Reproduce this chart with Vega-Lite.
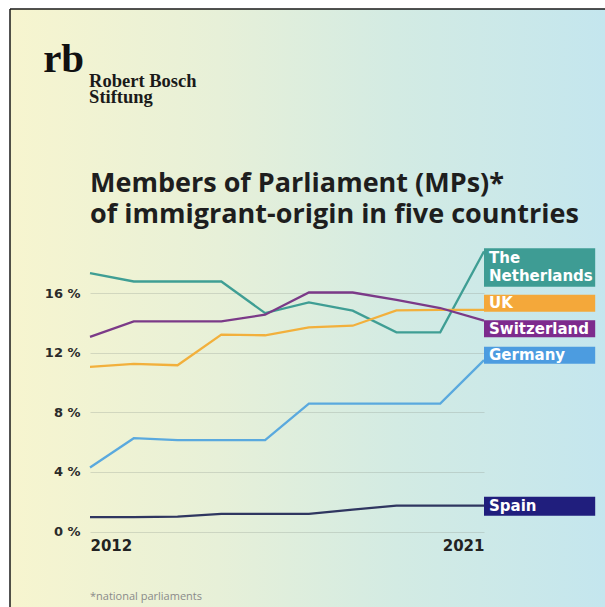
{
  "$schema": "https://vega.github.io/schema/vega-lite/v6.json",
  "width": 595,
  "height": 598,
  "autosize": "none",
  "padding": {"left": 10, "top": 9, "right": 0, "bottom": 0},
  "background": "#ffffff",
  "view": {
    "fill": {"gradient": "linear", "x1": 0, "y1": 0, "x2": 1, "y2": 0,
      "stops": [
        {"offset": 0, "color": "#f7f5cf"},
        {"offset": 0.35, "color": "#e7f0d8"},
        {"offset": 0.65, "color": "#d3ebe3"},
        {"offset": 1, "color": "#c4e6ee"}
      ]},
    "stroke": "#1a1a1a",
    "strokeWidth": 1.5,
    "strokeDash": [595, 1193, 598, 0]
  },
  "datasets": {
    "series": [
      {"country": "The Netherlands", "year": 2012, "share": 17.34},
      {"country": "The Netherlands", "year": 2013, "share": 16.78},
      {"country": "The Netherlands", "year": 2014, "share": 16.78},
      {"country": "The Netherlands", "year": 2015, "share": 16.78},
      {"country": "The Netherlands", "year": 2016, "share": 14.66},
      {"country": "The Netherlands", "year": 2017, "share": 15.38},
      {"country": "The Netherlands", "year": 2018, "share": 14.82},
      {"country": "The Netherlands", "year": 2019, "share": 13.37},
      {"country": "The Netherlands", "year": 2020, "share": 13.37},
      {"country": "The Netherlands", "year": 2021, "share": 18.8},
      {"country": "UK", "year": 2012, "share": 11.05},
      {"country": "UK", "year": 2013, "share": 11.25},
      {"country": "UK", "year": 2014, "share": 11.16},
      {"country": "UK", "year": 2015, "share": 13.21},
      {"country": "UK", "year": 2016, "share": 13.17},
      {"country": "UK", "year": 2017, "share": 13.7},
      {"country": "UK", "year": 2018, "share": 13.81},
      {"country": "UK", "year": 2019, "share": 14.84},
      {"country": "UK", "year": 2020, "share": 14.88},
      {"country": "UK", "year": 2021, "share": 14.88},
      {"country": "Switzerland", "year": 2012, "share": 13.06},
      {"country": "Switzerland", "year": 2013, "share": 14.1},
      {"country": "Switzerland", "year": 2014, "share": 14.1},
      {"country": "Switzerland", "year": 2015, "share": 14.1},
      {"country": "Switzerland", "year": 2016, "share": 14.55},
      {"country": "Switzerland", "year": 2017, "share": 16.04},
      {"country": "Switzerland", "year": 2018, "share": 16.04},
      {"country": "Switzerland", "year": 2019, "share": 15.55},
      {"country": "Switzerland", "year": 2020, "share": 15.0},
      {"country": "Switzerland", "year": 2021, "share": 14.15},
      {"country": "Germany", "year": 2012, "share": 4.3},
      {"country": "Germany", "year": 2013, "share": 6.26},
      {"country": "Germany", "year": 2014, "share": 6.13},
      {"country": "Germany", "year": 2015, "share": 6.13},
      {"country": "Germany", "year": 2016, "share": 6.13},
      {"country": "Germany", "year": 2017, "share": 8.58},
      {"country": "Germany", "year": 2018, "share": 8.58},
      {"country": "Germany", "year": 2019, "share": 8.58},
      {"country": "Germany", "year": 2020, "share": 8.58},
      {"country": "Germany", "year": 2021, "share": 11.5},
      {"country": "Spain", "year": 2012, "share": 0.96},
      {"country": "Spain", "year": 2013, "share": 0.96},
      {"country": "Spain", "year": 2014, "share": 1.0},
      {"country": "Spain", "year": 2015, "share": 1.18},
      {"country": "Spain", "year": 2016, "share": 1.18},
      {"country": "Spain", "year": 2017, "share": 1.18},
      {"country": "Spain", "year": 2018, "share": 1.47},
      {"country": "Spain", "year": 2019, "share": 1.74},
      {"country": "Spain", "year": 2020, "share": 1.74},
      {"country": "Spain", "year": 2021, "share": 1.74}
    ],
    "labels": [
      {"country": "The Netherlands", "label": ["The", "Netherlands"], "label_at": 17.72},
      {"country": "UK", "label": "UK", "label_at": 15.32},
      {"country": "Switzerland", "label": "Switzerland", "label_at": 13.61},
      {"country": "Germany", "label": "Germany", "label_at": 11.83},
      {"country": "Spain", "label": "Spain", "label_at": 1.69}
    ]
  },
  "layer": [
    {
      "data": {"name": "series"},
      "mark": {"type": "line", "strokeWidth": 2.3},
      "encoding": {
        "x": {
          "field": "year", "type": "quantitative",
          "scale": {"domain": [2012, 2021], "range": [80, 474], "nice": false, "zero": false},
          "axis": {
            "values": [2012, 2021], "format": "d", "title": null, "grid": false,
            "domain": false, "ticks": false, "tickSize": 0, "labelFlush": true,
            "offset": -75.5, "labelPadding": 7,
            "labelFont": "DejaVu Sans", "labelFontWeight": "bold", "labelFontSize": 15, "labelColor": "#222222"
          }
        },
        "y": {
          "field": "share", "type": "quantitative",
          "scale": {"domain": [0, 19], "range": [522.5, 239.4], "nice": false, "zero": true},
          "axis": {
            "values": [0, 4, 8, 12, 16], "labelExpr": "datum.value + ' %'", "title": null,
            "domain": false, "ticks": false, "tickSize": 0, "grid": true,
            "gridColor": "#8f998f", "gridOpacity": 0.3, "gridWidth": 1,
            "labelFlush": false, "offset": -80, "labelPadding": 10,
            "labelFont": "DejaVu Sans", "labelFontWeight": "bold", "labelFontSize": 13, "labelColor": "#2a2a2a"
          }
        },
        "color": {
          "field": "country", "type": "nominal",
          "scale": {
            "domain": ["The Netherlands", "UK", "Switzerland", "Germany", "Spain"],
            "range": ["#3f9e94", "#f2b03c", "#7b3a88", "#5aa9de", "#2f3660"]
          },
          "legend": null
        }
      }
    },
    {
      "data": {"name": "labels"},
      "mark": {"type": "rule", "strokeCap": "butt"},
      "encoding": {
        "x": {"datum": 2021, "type": "quantitative"},
        "x2": {"datum": 2023.54},
        "y": {"field": "label_at", "type": "quantitative"},
        "color": {
          "field": "country", "type": "nominal",
          "scale": {
            "domain": ["The Netherlands", "UK", "Switzerland", "Germany", "Spain"],
            "range": ["#3e9c94", "#f4a83a", "#7d2b8d", "#4c9ce0", "#201e7d"]
          },
          "legend": null
        },
        "strokeWidth": {
          "condition": [
            {"test": "datum.country === 'The Netherlands'", "value": 38.5},
            {"test": "datum.country === 'Spain'", "value": 19}
          ],
          "value": 17
        }
      }
    },
    {
      "data": {"name": "labels"},
      "transform": [{"filter": "datum.country !== 'The Netherlands'"}],
      "mark": {"type": "text", "align": "left", "baseline": "middle", "dx": 5, "font": "DejaVu Sans", "fontWeight": "bold", "fontSize": 15, "lineHeight": 18, "fill": "#ffffff"},
      "encoding": {
        "x": {"datum": 2021, "type": "quantitative"},
        "y": {"field": "label_at", "type": "quantitative"},
        "text": {"field": "label"}
      }
    },
    {
      "data": {"name": "labels"},
      "transform": [{"filter": "datum.country === 'The Netherlands'"}],
      "mark": {"type": "text", "align": "left", "baseline": "middle", "dx": 5, "dy": -9, "font": "DejaVu Sans", "fontWeight": "bold", "fontSize": 15, "lineHeight": 18, "fill": "#ffffff"},
      "encoding": {
        "x": {"datum": 2021, "type": "quantitative"},
        "y": {"field": "label_at", "type": "quantitative"},
        "text": {"field": "label"}
      }
    },
    {
      "data": {"values": [{}]},
      "mark": {"type": "text", "align": "left", "baseline": "alphabetic", "font": "Liberation Serif", "fontWeight": "bold", "fontSize": 41, "fill": "#111111"},
      "encoding": {
        "x": {"datum": 2010.93, "type": "quantitative"},
        "y": {"datum": 30.84, "type": "quantitative"},
        "text": {"value": "rb"}
      }
    },
    {
      "data": {"values": [{}]},
      "mark": {"type": "text", "align": "left", "baseline": "alphabetic", "font": "Liberation Serif", "fontWeight": "bold", "fontSize": 18.5, "lineHeight": 15.5, "fill": "#1a1a1a"},
      "encoding": {
        "x": {"datum": 2011.98, "type": "quantitative"},
        "y": {"datum": 29.8, "type": "quantitative"},
        "text": {"value": ["Robert Bosch", "Stiftung"]}
      }
    },
    {
      "data": {"values": [{}]},
      "mark": {"type": "text", "align": "left", "baseline": "alphabetic", "font": "Open Sans", "fontWeight": "bold", "fontSize": 27, "lineHeight": 31, "fill": "#1e1e1e"},
      "encoding": {
        "x": {"datum": 2012, "type": "quantitative"},
        "y": {"datum": 22.79, "type": "quantitative"},
        "text": {"value": ["Members of Parliament (MPs)*", "of immigrant-origin in five countries"]}
      }
    },
    {
      "data": {"values": [{}]},
      "mark": {"type": "text", "align": "left", "baseline": "alphabetic", "font": "Open Sans", "fontSize": 11, "fill": "#8a8a8a"},
      "encoding": {
        "x": {"datum": 2012, "type": "quantitative"},
        "y": {"datum": -4.6, "type": "quantitative"},
        "text": {"value": "*national parliaments"}
      }
    }
  ],
  "resolve": {"scale": {"color": "independent"}}
}
